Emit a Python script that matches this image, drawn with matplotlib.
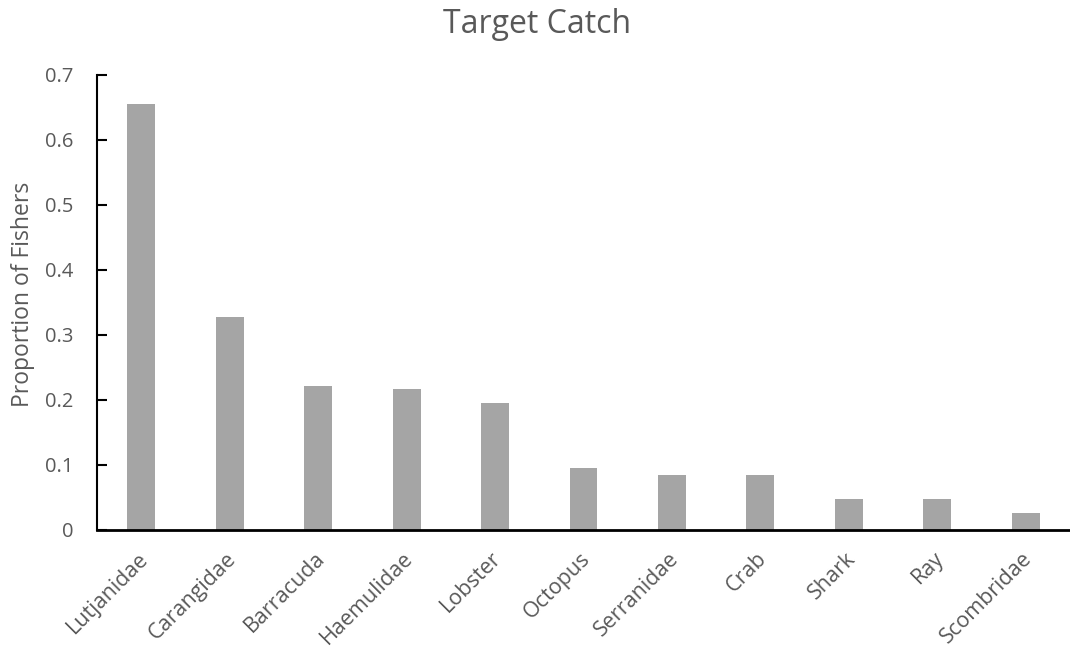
import matplotlib
matplotlib.use('Agg')
import matplotlib.pyplot as plt
import matplotlib.transforms as mtransforms
import numpy as np

# target catch by taxon
taxa = ['Lutjanidae', 'Carangidae', 'Barracuda', 'Haemulidae', 'Lobster',
        'Octopus', 'Serranidae', 'Crab', 'Shark', 'Ray', 'Scombridae']
proportion = [0.656, 0.328, 0.222, 0.217, 0.195, 0.095, 0.085, 0.085,
              0.048, 0.048, 0.026]

plt.rcParams['font.family'] = ['Open Sans', 'DejaVu Sans']
txt = '#595959'

fig = plt.figure(figsize=(10.70, 6.51), dpi=100)
ax = fig.add_axes([0.0907, 0.1859, 0.9093, 0.699])

x = np.arange(len(taxa))
ax.bar(x, proportion, width=0.315, color='#A5A5A5', zorder=2)

ax.set_xlim(-0.5, len(taxa) - 0.5)
ax.set_ylim(0, 0.7)
ax.set_yticks(np.arange(0, 0.71, 0.1))
ax.set_yticklabels(['0', '0.1', '0.2', '0.3', '0.4', '0.5', '0.6', '0.7'])
ax.set_xticks(x)
ax.set_xticklabels(taxa, rotation=45, ha='right', rotation_mode='anchor')

ax.tick_params(axis='y', direction='in', length=7, width=1.5, colors='black',
               labelcolor=txt, labelsize=14.5, pad=17)
ax.tick_params(axis='x', length=0, labelcolor=txt, labelsize=15.5, pad=13)

# nudge the slanted category labels a little left
shift = mtransforms.ScaledTranslation(-4 / 100, 0, fig.dpi_scale_trans)
for lbl in ax.get_xticklabels():
    lbl.set_transform(lbl.get_transform() + shift)

for s in ['top', 'right']:
    ax.spines[s].set_visible(False)
ax.spines['left'].set_linewidth(1.5)
ax.spines['bottom'].set_linewidth(2)

ax.set_ylabel('Proportion of Fishers', color=txt, fontsize=16.5)
ax.yaxis.set_label_coords(-0.064, 0.518)
fig.text(0.502, 1 - 33 / 651, 'Target Catch', ha='center', va='baseline',
         color=txt, fontsize=23)

fig.savefig('out.png', dpi=100)
